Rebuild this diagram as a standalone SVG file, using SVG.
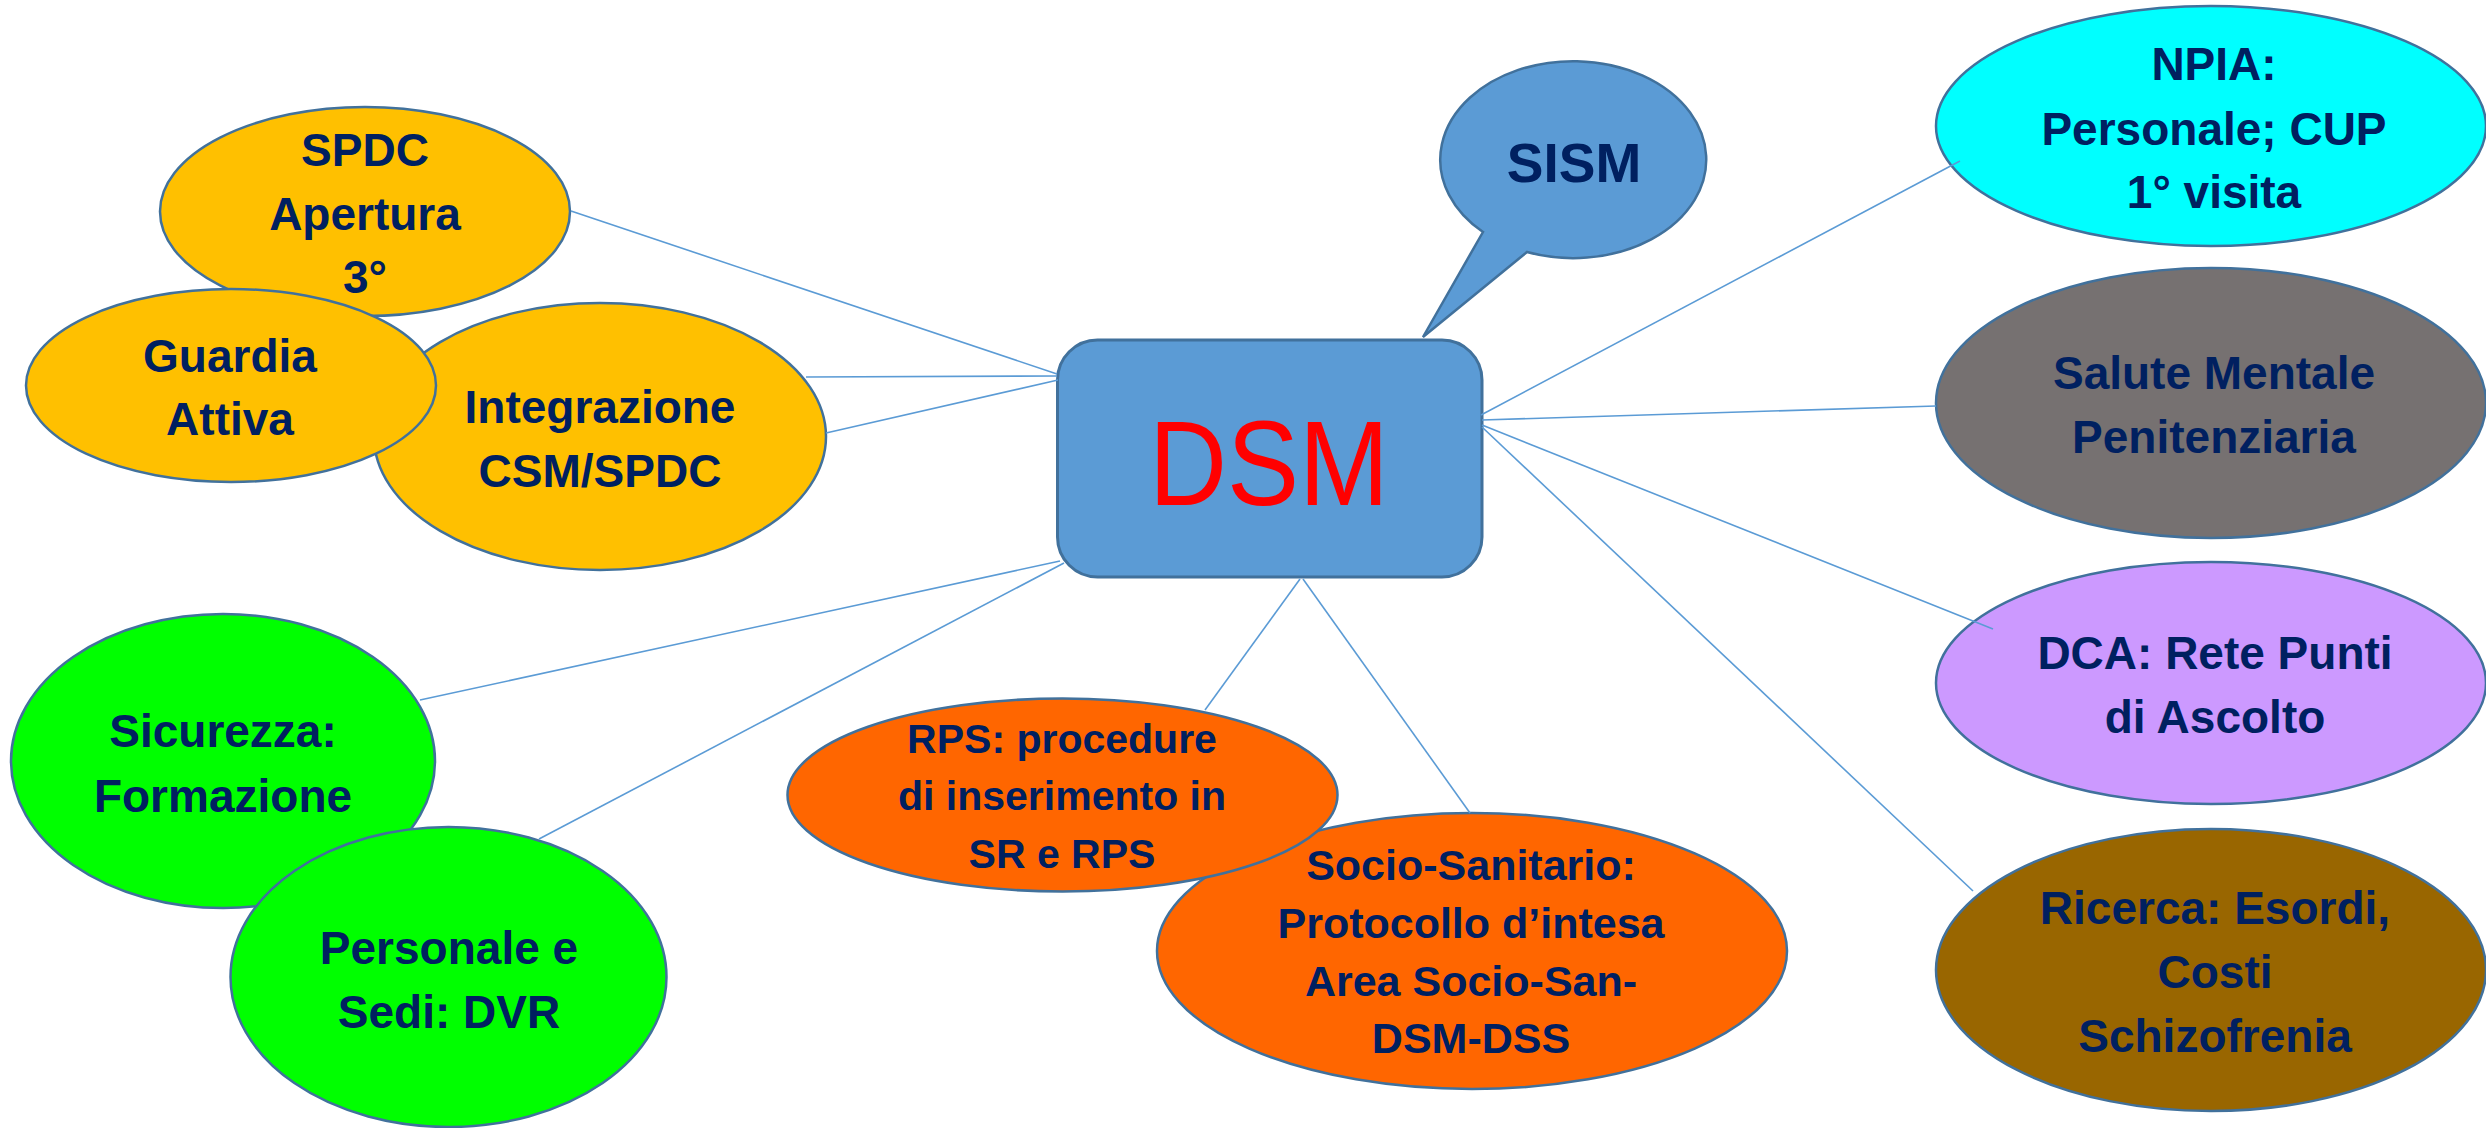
<svg xmlns="http://www.w3.org/2000/svg" width="2486" height="1128" viewBox="0 0 2486 1128">
<style>
.n{stroke:#41719C;stroke-width:2.5}
.t{font-family:"Liberation Sans",Arial,sans-serif;font-weight:bold;font-size:46px;fill:#002060;text-anchor:middle}
.s{font-size:41px}
.m{font-size:43px}
.c{stroke:#5B9BD5;stroke-width:1.6;fill:none}
</style>
<rect width="2486" height="1128" fill="#FFFFFF"/>
<g id="spdc">
<ellipse class="n" cx="365" cy="211.5" rx="205" ry="104.5" fill="#FFC000"/>
<text class="t" x="365" y="166">SPDC</text>
<text class="t" x="365" y="230">Apertura</text>
<text class="t" x="365" y="293">3°</text>
</g>
<g id="integrazione">
<ellipse class="n" cx="600" cy="436.5" rx="226" ry="133.5" fill="#FFC000"/>
<text class="t" x="600" y="423">Integrazione</text>
<text class="t" x="600" y="487">CSM/SPDC</text>
</g>
<g id="guardia">
<ellipse class="n" cx="231" cy="385.5" rx="205" ry="96.5" fill="#FFC000"/>
<text class="t" x="230" y="372">Guardia</text>
<text class="t" x="230" y="435">Attiva</text>
</g>
<g id="sicurezza">
<ellipse class="n" cx="223" cy="761" rx="212" ry="147" fill="#00FF00"/>
<text class="t" x="223" y="747">Sicurezza:</text>
<text class="t" x="223" y="812">Formazione</text>
</g>
<g id="personale">
<ellipse class="n" cx="448.5" cy="977" rx="218" ry="150" fill="#00FF00"/>
<text class="t" x="449" y="964">Personale e</text>
<text class="t" x="449" y="1028">Sedi: DVR</text>
</g>
<g id="socio">
<ellipse class="n" cx="1472" cy="951" rx="315" ry="138" fill="#FF6600"/>
<text class="t m" x="1471" y="880">Socio-Sanitario:</text>
<text class="t m" x="1471" y="938">Protocollo d’intesa</text>
<text class="t m" x="1471" y="996">Area Socio-San-</text>
<text class="t m" x="1471" y="1053">DSM-DSS</text>
</g>
<g id="rps">
<ellipse class="n" cx="1062.5" cy="795" rx="275" ry="96.5" fill="#FF6600"/>
<text class="t s" x="1062" y="753">RPS: procedure</text>
<text class="t s" x="1062" y="810">di inserimento in</text>
<text class="t s" x="1062" y="868">SR e RPS</text>
</g>
<g id="npia">
<ellipse class="n" cx="2211" cy="126" rx="275" ry="120" fill="#00FFFF"/>
<text class="t" x="2214" y="80">NPIA:</text>
<text class="t" x="2214" y="145">Personale; CUP</text>
<text class="t" x="2214" y="208">1° visita</text>
</g>
<g id="salute">
<ellipse class="n" cx="2211" cy="403" rx="275" ry="135" fill="#767171"/>
<text class="t" x="2214" y="389">Salute Mentale</text>
<text class="t" x="2214" y="453">Penitenziaria</text>
</g>
<g id="dca">
<ellipse class="n" cx="2211" cy="683" rx="275" ry="121" fill="#CC99FF"/>
<text class="t" x="2215" y="669">DCA: Rete Punti</text>
<text class="t" x="2215" y="733">di Ascolto</text>
</g>
<g id="ricerca">
<ellipse class="n" cx="2211" cy="970" rx="275" ry="141" fill="#996600"/>
<text class="t" x="2215" y="924">Ricerca: Esordi,</text>
<text class="t" x="2215" y="988">Costi</text>
<text class="t" x="2215" y="1052">Schizofrenia</text>
</g>
<g id="sism">
<path class="n" fill="#5B9BD5" d="M1527 252 L1423 337 L1483 232 A133 98.5 0 1 1 1527 252 Z"/>
<text class="t" style="font-size:55px" x="1574" y="182">SISM</text>
</g>
<g id="dsm">
<rect class="n" style="stroke-width:3" x="1057.5" y="340" width="424.5" height="237" rx="40" ry="40" fill="#5B9BD5"/>
<text x="1269" y="505" font-family="Liberation Sans, Arial, sans-serif" font-size="120" fill="#FF0000" text-anchor="middle" textLength="240" lengthAdjust="spacingAndGlyphs">DSM</text>
</g>
<g id="connectors">
<line class="c" x1="571" y1="211" x2="1057" y2="374"/>
<line class="c" x1="806" y1="377" x2="1057" y2="376"/>
<line class="c" x1="826" y1="433" x2="1058" y2="380"/>
<line class="c" x1="420" y1="700" x2="1060" y2="561"/>
<line class="c" x1="539" y1="839" x2="1064" y2="563"/>
<line class="c" x1="1205" y1="710" x2="1300" y2="579"/>
<line class="c" x1="1470" y1="813" x2="1303" y2="579"/>
<line class="c" x1="1482" y1="427" x2="1973" y2="891"/>
<line class="c" x1="1482" y1="425" x2="1993" y2="629"/>
<line class="c" x1="1482" y1="420" x2="1936" y2="406"/>
<line class="c" x1="1481" y1="415" x2="1960" y2="161"/>
</g>
</svg>
